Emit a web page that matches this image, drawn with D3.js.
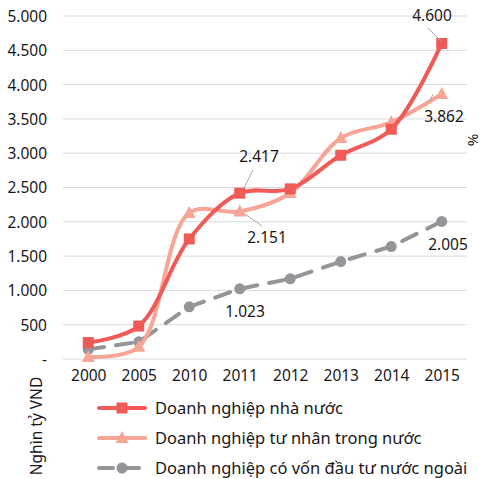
<!DOCTYPE html>
<html>
<head>
<meta charset="utf-8">
<script src="https://cdn.jsdelivr.net/npm/d3@7"></script>
<style>
body { margin: 0; background: #fff; }
text { font-family: "Noto Sans", sans-serif; fill: #1a1718; }
</style>
</head>
<body>
<div id="chart"></div>
<script>
var years = ["2000", "2005", "2010", "2011", "2012", "2013", "2014", "2015"];
var stateOwned = [240, 480, 1750, 2417, 2480, 2970, 3350, 4600];
var privateDomestic = [30, 180, 2130, 2151, 2420, 3220, 3450, 3862];
var foreignInvested = [140, 250, 760, 1023, 1170, 1420, 1640, 2005];
var yTicks = [0, 500, 1000, 1500, 2000, 2500, 3000, 3500, 4000, 4500, 5000];
var seriesNames = ["Doanh nghiệp nhà nước", "Doanh nghiệp tư nhân trong nước", "Doanh nghiệp có vốn đầu tư nước ngoài"];

var W = 485, H = 479;
var plotL = 63, plotR = 467, plotT = 16, plotB = 359;

var svg = d3.select("#chart").append("svg")
    .attr("width", W).attr("height", H);

var x = d3.scalePoint().domain(years).range([plotL, plotR]).padding(0.5);
var y = d3.scaleLinear().domain([0, 5000]).range([plotB, plotT]);

var fmt = function(v) { return v === 0 ? "-" : d3.format(",")(v).replace(/,/g, "."); };

// gridlines
svg.append("g").selectAll("line")
    .data(yTicks)
    .enter().append("line")
    .attr("x1", plotL).attr("x2", plotR)
    .attr("y1", function(d) { return y(d); })
    .attr("y2", function(d) { return y(d); })
    .attr("stroke", "#d9d9d9").attr("stroke-width", 1);

var yAxis = svg.append("g")
    .attr("transform", "translate(" + (plotL - 16) + ",0)")
    .call(d3.axisLeft(y).tickValues(yTicks).tickFormat(fmt).tickSize(0).tickPadding(0));
yAxis.select(".domain").remove();
yAxis.selectAll("text").style("font-size", "15.5px").style("font-family", "\"Noto Sans\", sans-serif").style("fill", "#1a1718").attr("dy", "0.35em");

var xAxis = svg.append("g")
    .attr("transform", "translate(0," + plotB + ")")
    .call(d3.axisBottom(x).tickSize(0).tickPadding(11));
xAxis.select(".domain").remove();
xAxis.selectAll("text").style("font-size", "15.5px").style("font-family", "\"Noto Sans\", sans-serif").style("fill", "#1a1718");

var series = [
    { vals: stateOwned, color: "#f05a57", marker: "square", dash: null },
    { vals: privateDomestic, color: "#f7a596", marker: "triangle", dash: null },
    { vals: foreignInvested, color: "#939598", marker: "circle", dash: "16,12" }
];

var line = d3.line()
    .x(function(d, i) { return x(years[i]); })
    .y(function(d) { return y(d); })
    .curve(d3.curveCatmullRom.alpha(0.5));

var lineStraight = d3.line()
    .x(function(d, i) { return x(years[i]); })
    .y(function(d) { return y(d); });

function drawMarker(g, kind, cx, cy, color) {
    if (kind === "square") {
        g.append("rect").attr("x", cx - 5.5).attr("y", cy - 5.5)
            .attr("width", 11).attr("height", 11).attr("fill", color);
    } else if (kind === "triangle") {
        g.append("path")
            .attr("d", "M" + cx + "," + (cy - 7) + "L" + (cx + 6.5) + "," + (cy + 5) + "L" + (cx - 6.5) + "," + (cy + 5) + "Z")
            .attr("fill", color);
    } else {
        g.append("circle").attr("cx", cx).attr("cy", cy).attr("r", 5.5).attr("fill", color);
    }
}

// draw back to front: gray, pink, red
[2, 1, 0].forEach(function(k) {
    var s = series[k];
    var g = svg.append("g");
    g.append("path")
        .datum(s.vals)
        .attr("d", s.dash ? lineStraight : line)
        .attr("fill", "none")
        .attr("stroke", s.color)
        .attr("stroke-width", 4)
        .attr("stroke-linecap", s.dash ? "round" : "butt")
        .attr("stroke-dasharray", s.dash);
    s.vals.forEach(function(v, i) {
        drawMarker(g, s.marker, x(years[i]), y(v), s.color);
    });
});

// data labels with leader lines
var labels = [
    { text: "4.600", lx: 432, ly: 21, l1: [428, 28], l2: [441, 41] },
    { text: "3.862", lx: 444, ly: 122, l1: [430, 101], l2: [433, 94] },
    { text: "2.417", lx: 259, ly: 162, l1: [253, 170], l2: [244, 188] },
    { text: "2.151", lx: 267, ly: 243, l1: [262, 226], l2: [245, 214] },
    { text: "1.023", lx: 245, ly: 317, l1: null },
    { text: "2.005", lx: 448, ly: 250, l1: null }
];
labels.forEach(function(d) {
    if (d.l1) {
        svg.append("line")
            .attr("x1", d.l1[0]).attr("y1", d.l1[1])
            .attr("x2", d.l2[0]).attr("y2", d.l2[1])
            .attr("stroke", "#a6a6a6").attr("stroke-width", 1);
    }
    svg.append("text")
        .attr("x", d.lx).attr("y", d.ly)
        .attr("text-anchor", "middle")
        .style("font-size", "15.5px")
        .text(d.text);
});

// right "%" label
svg.append("text")
    .attr("transform", "translate(468,140) rotate(90)")
    .attr("text-anchor", "middle")
    .style("font-size", "15px")
    .text("%");

// y axis title
svg.append("text")
    .attr("transform", "translate(42,426) rotate(-90)")
    .attr("text-anchor", "middle")
    .style("font-size", "15.5px")
    .text("Nghìn tỷ VND");

// legend
var legend = svg.append("g");
seriesNames.forEach(function(name, i) {
    var s = series[i];
    var ly = 408 + i * 30;
    legend.append("line")
        .attr("x1", 99).attr("x2", 145)
        .attr("y1", ly).attr("y2", ly)
        .attr("stroke", s.color).attr("stroke-width", 4)
        .attr("stroke-linecap", "round")
        .attr("stroke-dasharray", s.dash ? "14,12" : null);
    drawMarker(legend, s.marker, 122, ly, s.color);
    legend.append("text")
        .attr("x", 155).attr("y", ly)
        .attr("dy", "0.35em")
        .style("font-size", "16.5px")
        .text(name);
});
</script>
</body>
</html>
